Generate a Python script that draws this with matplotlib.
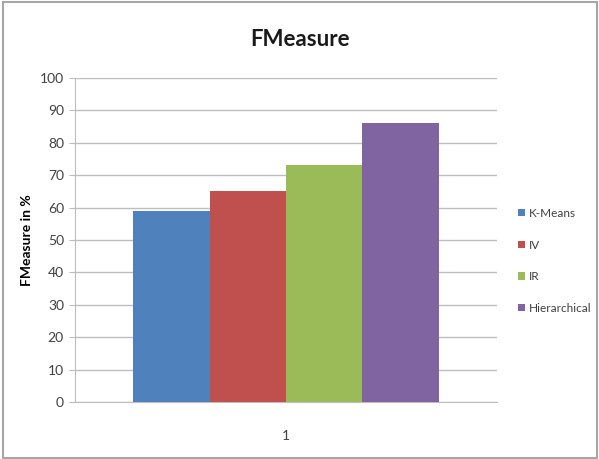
import matplotlib.pyplot as plt
from matplotlib.patches import Rectangle

plt.rcParams['font.family'] = ['Lato', 'DejaVu Sans']

# F-measure per clustering method (single experiment run "1")
methods = ["K-Means", "IV", "IR", "Hierarchical"]
fmeasure = [59, 65, 73, 86]
colors = ["#4F81BD", "#C0504D", "#9BBB59", "#8064A2"]
category = ["1"]
yticks = list(range(0, 101, 10))

fig = plt.figure(figsize=(5.99, 4.59), dpi=100)
fig.patch.set_facecolor("white")

W, H = 599, 459
ax = fig.add_axes([75 / W, 1 - 402 / H, 422 / W, 324 / H])

width = 0.181
n = len(methods)
for i, (m, v, c) in enumerate(zip(methods, fmeasure, colors)):
    ax.bar((i - (n - 1) / 2) * width, v, width=width, color=c, label=m,
           linewidth=0, zorder=3)

ax.set_xlim(-0.5, 0.5)
ax.set_ylim(0, 100)
ax.set_yticks(yticks)
ax.set_xticks([0])
ax.set_xticklabels(category)

ax.grid(axis="y", color="#bdbdbd", linewidth=1.0, zorder=0)
for side in ("top", "right"):
    ax.spines[side].set_visible(False)
ax.spines["left"].set_color("#bdbdbd")
ax.spines["bottom"].set_color("#bdbdbd")
ax.tick_params(axis="y", length=4, color="#bdbdbd", labelsize=10,
               labelcolor="#404040", pad=4)
ax.tick_params(axis="x", length=0, labelsize=10, labelcolor="#404040", pad=20)

ax.set_ylabel("FMeasure in %", fontsize=10, fontweight="bold", labelpad=5)
fig.text(300 / W, 1 - 40 / H, "FMeasure", ha="center", va="center",
         fontsize=16, fontweight="bold", color="#1a1a1a")

leg = fig.legend(loc="upper left", bbox_to_anchor=(512 / W, 1 - 202 / H),
                 frameon=False, fontsize=8.5, handlelength=0.6, handleheight=0.6,
                 handletextpad=0.3, labelspacing=1.75, borderpad=0)
for t in leg.get_texts():
    t.set_color("#404040")

# chart-area border
fig.patches.append(Rectangle((3 / W, 1 / H), 594 / W, 456 / H,
                             transform=fig.transFigure, fill=False,
                             edgecolor="#a6a6a6", linewidth=1.5))

fig.savefig("out.png", dpi=100)
